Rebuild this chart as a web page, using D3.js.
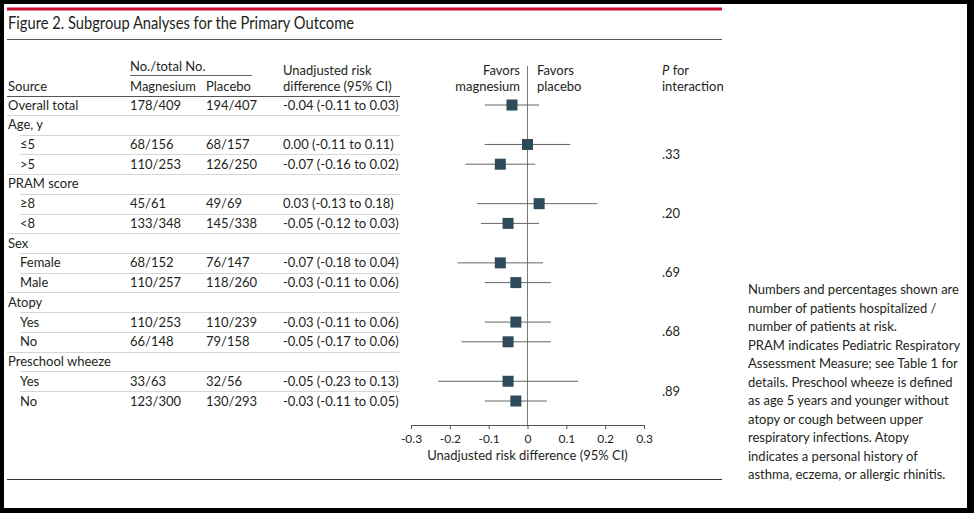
<!DOCTYPE html>
<html>
<head>
<meta charset="utf-8">
<script src="https://cdn.jsdelivr.net/npm/d3@7"></script>
<style>
  html, body { margin: 0; padding: 0; background: #000; }
  svg text { font-family: Lato, "Noto Sans", sans-serif; fill: #231f20; }
</style>
</head>
<body>
<div id="chart"></div>
<script>
// rows of the table, top to bottom
const labels = ["Overall total", "Age, y", "≤5", ">5", "PRAM score", "≥8", "<8", "Sex", "Female", "Male",
  "Atopy", "Yes", "No", "Preschool wheeze", "Yes", "No"];
const indented = [0, 0, 1, 1, 0, 1, 1, 0, 1, 1, 0, 1, 1, 0, 1, 1];
const magnesium = ["178/409", "", "68/156", "110/253", "", "45/61", "133/348", "", "68/152", "110/257",
  "", "110/253", "66/148", "", "33/63", "123/300"];
const placebo = ["194/407", "", "68/157", "126/250", "", "49/69", "145/338", "", "76/147", "118/260",
  "", "110/239", "79/158", "", "32/56", "130/293"];
const riskDiff = [-0.04, null, 0.00, -0.07, null, 0.03, -0.05, null, -0.07, -0.03, null, -0.03, -0.05, null, -0.05, -0.03];
const ciLow = [-0.11, null, -0.11, -0.16, null, -0.13, -0.12, null, -0.18, -0.11, null, -0.11, -0.17, null, -0.23, -0.11];
const ciHigh = [0.03, null, 0.11, 0.02, null, 0.18, 0.03, null, 0.04, 0.06, null, 0.06, 0.06, null, 0.13, 0.05];
// P for interaction, one per subgroup header row
const pRows = [1, 4, 7, 10, 13];
const pValues = [".33", ".20", ".69", ".68", ".89"];
const xTicks = [-0.3, -0.2, -0.1, 0, 0.1, 0.2, 0.3];
const noteLines = ["Numbers and percentages shown are", "number of patients hospitalized /", "number of patients at risk.",
  "PRAM indicates Pediatric Respiratory", "Assessment Measure; see Table 1 for", "details. Preschool wheeze is defined",
  "as age 5 years and younger without", "atopy or cough between upper", "respiratory infections. Atopy",
  "indicates a personal history of", "asthma, eczema, or allergic rhinitis."];

const W = 974, H = 513;
const svg = d3.select("#chart").append("svg").attr("width", W).attr("height", H);
svg.append("rect").attr("x", 4).attr("y", 4).attr("width", 963).attr("height", 504).attr("fill", "#fff");

function fmt(v) { return v.toFixed(2).replace("-0.00", "0.00"); }

const y = d3.scalePoint().domain(d3.range(labels.length)).range([105, 401]);
const step = y.step();
const x = d3.scaleLinear().domain([-0.3, 0.3]).range([411, 644]);

// title block
svg.append("line").attr("x1", 7).attr("x2", 722).attr("y1", 9).attr("y2", 9)
  .attr("stroke", "#c8102e").attr("stroke-width", 3);
svg.append("text").attr("x", 8).attr("y", 29).attr("font-size", 17.5).text("Figure 2. Subgroup Analyses for the Primary Outcome")
  .attr("textLength", 346).attr("lengthAdjust", "spacingAndGlyphs");
svg.append("line").attr("x1", 7).attr("x2", 722).attr("y1", 39.5).attr("y2", 39.5).attr("stroke", "#555").attr("stroke-width", 1);
svg.append("line").attr("x1", 7).attr("x2", 722).attr("y1", 479.5).attr("y2", 479.5).attr("stroke", "#333").attr("stroke-width", 1.2);

// column headers
const colMg = 130, colPl = 206, colCi = 283;
const hdr = svg.append("g").attr("font-size", 13);
hdr.append("text").attr("x", colMg).attr("y", 71).text("No./total No.");
hdr.append("line").attr("x1", colMg).attr("x2", 252).attr("y1", 75.5).attr("y2", 75.5).attr("stroke", "#666");
hdr.append("text").attr("x", 8).attr("y", 91).text("Source");
hdr.append("text").attr("x", colMg).attr("y", 91).text("Magnesium");
hdr.append("text").attr("x", colPl).attr("y", 91).text("Placebo");
hdr.append("text").attr("x", colCi).attr("y", 75).text("Unadjusted risk");
hdr.append("text").attr("x", colCi).attr("y", 91).text("difference (95% CI)");
hdr.append("text").attr("x", 520).attr("y", 75).attr("text-anchor", "end").text("Favors");
hdr.append("text").attr("x", 520).attr("y", 91).attr("text-anchor", "end").text("magnesium");
hdr.append("text").attr("x", 537).attr("y", 75).text("Favors");
hdr.append("text").attr("x", 537).attr("y", 91).text("placebo");
const pt = hdr.append("text").attr("x", 662).attr("y", 75);
pt.append("tspan").attr("font-style", "italic").text("P");
pt.append("tspan").text(" for");
hdr.append("text").attr("x", 662).attr("y", 91).text("interaction");
svg.append("line").attr("x1", 7).attr("x2", 400).attr("y1", 96.5).attr("y2", 96.5).attr("stroke", "#555");

// row separators
const rows = d3.range(labels.length);
svg.append("g").selectAll("line").data(rows.slice(1)).join("line")
  .attr("x1", i => indented[i] ? 20 : 7).attr("x2", 400)
  .attr("y1", i => Math.round(y(i) - step / 2) + 0.5).attr("y2", i => Math.round(y(i) - step / 2) + 0.5)
  .attr("stroke", "#d6d6d6");

// table text
const tbl = svg.append("g").attr("font-size", 13);
tbl.selectAll("text.lab").data(rows).join("text").attr("class", "lab")
  .attr("x", i => indented[i] ? 20 : 8).attr("y", i => y(i) + 4.5).text(i => labels[i]);
tbl.selectAll("text.mg").data(rows).join("text").attr("class", "mg")
  .attr("x", colMg).attr("y", i => y(i) + 4.5).text(i => magnesium[i]);
tbl.selectAll("text.pl").data(rows).join("text").attr("class", "pl")
  .attr("x", colPl).attr("y", i => y(i) + 4.5).text(i => placebo[i]);
tbl.selectAll("text.ci").data(rows.filter(i => riskDiff[i] !== null)).join("text").attr("class", "ci")
  .attr("x", colCi).attr("y", i => y(i) + 4.5)
  .text(i => `${fmt(riskDiff[i])} (${fmt(ciLow[i])} to ${fmt(ciHigh[i])})`);

// P values sit between the two subgroup rows
tbl.selectAll("text.p").data(pRows).join("text").attr("class", "p")
  .attr("x", 662).attr("y", (r) => (y(r + 1) + y(r + 2)) / 2 + 4.5)
  .text((r, k) => pValues[k]);

// forest plot
const plot = svg.append("g");
plot.append("line").attr("x1", x(0)).attr("x2", x(0)).attr("y1", 66).attr("y2", 425)
  .attr("stroke", "#7a7a7a").attr("stroke-width", 1);
const axis = d3.axisBottom(x).tickValues(xTicks).tickSize(4)
  .tickFormat(d => d === 0 ? "0" : d3.format(".1f")(d).replace("−", "-"));
const ax = plot.append("g").attr("transform", "translate(0,425)").call(axis);
ax.select(".domain").attr("stroke", "#555");
ax.selectAll(".tick line").attr("stroke", "#555");
ax.selectAll(".tick text").attr("font-size", 12).attr("font-family", "Lato, sans-serif").attr("fill", "#231f20").attr("dy", "0.9em");
plot.append("text").attr("x", x(0)).attr("y", 460).attr("text-anchor", "middle").attr("font-size", 13)
  .text("Unadjusted risk difference (95% CI)");

const est = rows.filter(i => riskDiff[i] !== null);
plot.selectAll("line.ci").data(est).join("line").attr("class", "ci")
  .attr("x1", i => x(ciLow[i])).attr("x2", i => x(ciHigh[i]))
  .attr("y1", i => y(i)).attr("y2", i => y(i))
  .attr("stroke", "#666").attr("stroke-width", 1);
const sq = 11;
plot.selectAll("rect.pt").data(est).join("rect").attr("class", "pt")
  .attr("x", i => x(riskDiff[i]) - sq / 2).attr("y", i => y(i) - sq / 2)
  .attr("width", sq).attr("height", sq).attr("fill", "#2e4b5b");

// footnote
svg.append("g").attr("font-size", 13).selectAll("text").data(noteLines).join("text")
  .attr("x", 748).attr("y", (d, i) => 294 + i * 18.5).text(d => d);
</script>
</body>
</html>
